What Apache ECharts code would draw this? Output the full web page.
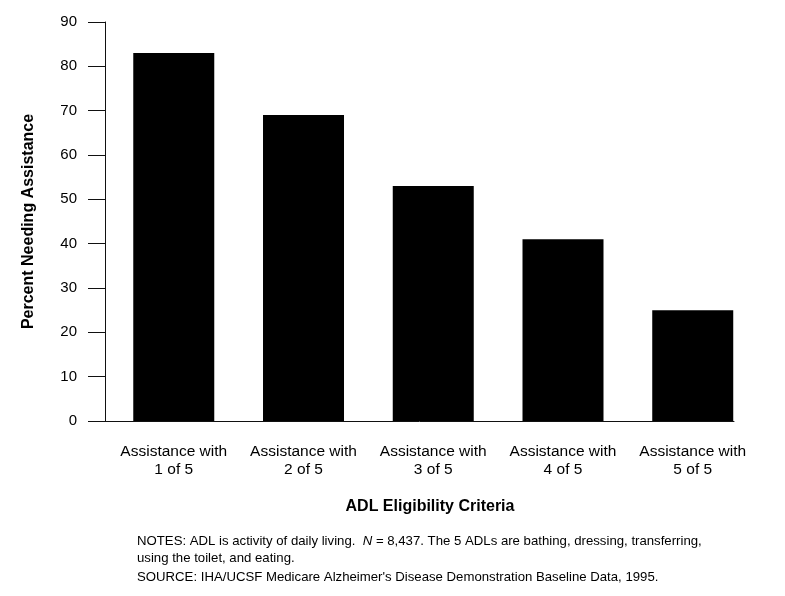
<!DOCTYPE html>
<html>
<head>
<meta charset="utf-8">
<script src="https://cdn.jsdelivr.net/npm/echarts@6/dist/echarts.min.js"></script>
<style>html,body{margin:0;padding:0;background:#fff;}#c{width:785px;height:596px;}</style>
</head>
<body>
<div id="c"></div>
<script>
var categories = ['Assistance with\n1 of 5', 'Assistance with\n2 of 5', 'Assistance with\n3 of 5', 'Assistance with\n4 of 5', 'Assistance with\n5 of 5'];
var positions = [1, 2, 3, 4, 5];
var values = [83, 69, 53, 41, 25];
var yTicks = [0, 10, 20, 30, 40, 50, 60, 70, 80, 90];

var FONT = 'Liberation Sans, Arial, Helvetica, sans-serif';
var chart = echarts.init(document.getElementById('c'), null, {renderer: 'canvas'});
chart.setOption({
  animation: false,
  backgroundColor: '#fff',
  textStyle: {fontFamily: FONT},
  grid: {left: 105, right: 51, top: 22, bottom: 175, containLabel: false},
  xAxis: {
    type: 'value',
    min: 0.47,
    max: 5.318,
    name: 'ADL Eligibility Criteria',
    nameLocation: 'middle',
    nameGap: 78,
    nameTextStyle: {fontFamily: FONT, fontSize: 16, fontWeight: 'bold', color: '#000', padding: [0, 0, 0, 21]},
    splitLine: {show: false},
    axisLine: {show: true, lineStyle: {color: '#111', width: 1}},
    axisTick: {show: false},
    axisLabel: {
      customValues: positions,
      fontFamily: FONT, fontSize: 15.5, color: '#000', lineHeight: 17.5, margin: 22,
      formatter: function (v) { var i = positions.indexOf(Math.round(v)); return i >= 0 ? categories[i] : ''; }
    }
  },
  yAxis: {
    type: 'value',
    min: 0, max: 90, interval: 10,
    name: 'Percent Needing Assistance',
    nameLocation: 'middle',
    nameGap: 68,
    nameTextStyle: {fontFamily: FONT, fontSize: 16, fontWeight: 'bold', color: '#000'},
    splitLine: {show: false},
    axisLine: {show: true, lineStyle: {color: '#111', width: 1}},
    axisTick: {show: true, inside: false, length: 17, lineStyle: {color: '#111', width: 1}},
    axisLabel: {fontFamily: FONT, fontSize: 15, color: '#000', margin: 28,
      formatter: function (v) { return yTicks.indexOf(v) >= 0 ? String(v) : ''; }}
  },
  series: [{
    type: 'bar',
    barWidth: 81,
    itemStyle: {color: '#000'},
    data: positions.map(function (p, i) { return [p, values[i]]; })
  }],
  graphic: [
    {type: 'text', left: 137, top: 535, style: {
      rich: {a: {fontFamily: FONT, fontSize: 13.2, fill: '#000'}, i: {fontFamily: FONT, fontSize: 13.2, fontStyle: 'italic', fill: '#000'}},
      text: '{a|NOTES: ADL is activity of daily living.  }{i|N}{a| = 8,437. The 5 ADLs are bathing, dressing, transferring,}',
      fill: '#000'}},
    {type: 'text', left: 137, top: 552, style: {text: 'using the toilet, and eating.', font: '13.2px ' + FONT, fill: '#000'}},
    {type: 'text', left: 137, top: 571, style: {text: "SOURCE: IHA/UCSF Medicare Alzheimer's Disease Demonstration Baseline Data, 1995.", font: '13.2px ' + FONT, fill: '#000'}}
  ]
});
</script>
</body>
</html>
